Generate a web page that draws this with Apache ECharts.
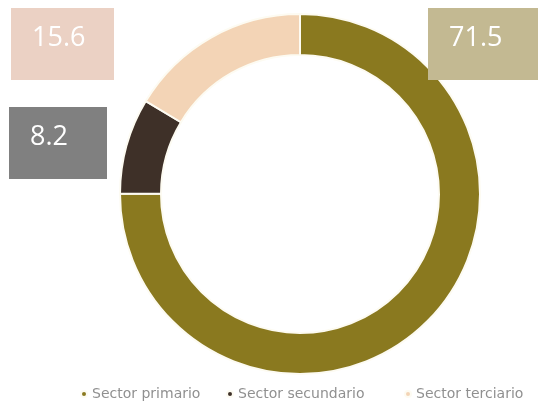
<!DOCTYPE html>
<html>
<head>
<meta charset="utf-8">
<script src="https://cdn.jsdelivr.net/npm/echarts@6/dist/echarts.min.js"></script>
<style>
  html, body { margin: 0; padding: 0; background: #fff; }
  #chart { width: 545px; height: 402px; }
</style>
</head>
<body>
<div id="chart"></div>
<script>
// datos
var sectores = ['Sector primario', 'Sector secundario', 'Sector terciario'];
var valores = [71.5, 8.2, 15.6];

// estilos
var colores = ['#8a791f', '#3e3028', '#f3d4b6'];
var fondos = ['#c3b992', '#808080', '#ebd1c4'];
// esquina superior izquierda de cada caja de etiqueta
var cajas = [[428, 8], [9, 107], [11, 8]];
var anchos = [110, 98, 103];
// posicion x de cada entrada de la leyenda
var leyendaX = [80, 226, 404];

var chart = echarts.init(document.getElementById('chart'));

var datos = sectores.map(function (s, i) {
  return {
    name: s,
    value: valores[i],
    itemStyle: { color: colores[i] },
    label: {
      backgroundColor: fondos[i],
      width: anchos[i] - 21,
      height: 57
    }
  };
});

// una leyenda por sector para poder separarlas como en el original
var leyendas = sectores.map(function (s, i) {
  return {
    top: 387,
    left: leyendaX[i],
    icon: 'circle',
    itemWidth: 6,
    itemHeight: 6,
    padding: 0,
    textStyle: { color: '#909090', fontSize: 14, fontFamily: 'DejaVu Sans' },
    data: [s]
  };
});

chart.setOption({
  animation: false,
  legend: leyendas,
  series: [{
    type: 'pie',
    center: [300, 194],
    radius: [139, 180],
    startAngle: 90,
    clockwise: true,
    avoidLabelOverlap: false,
    itemStyle: { borderColor: '#fdfbf2', borderWidth: 2 },
    label: {
      show: true,
      position: 'outside',
      formatter: '{c}',
      color: '#fff',
      fontSize: 27,
      fontFamily: 'Open Sans',
      lineHeight: 30,
      align: 'left',
      verticalAlign: 'top',
      padding: [15, 0, 0, 21]
    },
    labelLine: { show: false },
    labelLayout: function (p) {
      var c = cajas[p.dataIndex];
      return { x: c[0], y: c[1], align: 'left', verticalAlign: 'top' };
    },
    data: datos
  }]
});
</script>
</body>
</html>
